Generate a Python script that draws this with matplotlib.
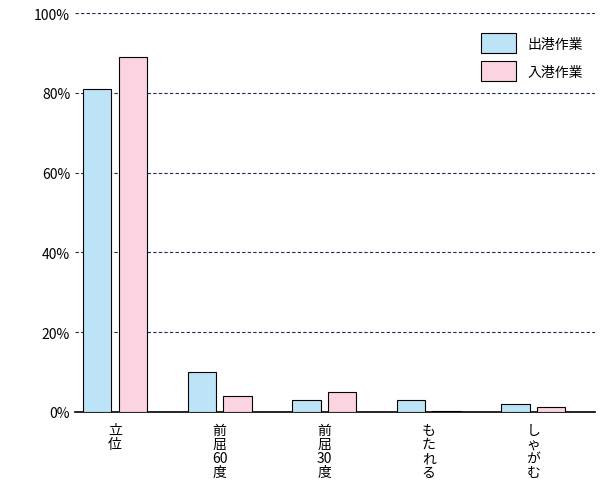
import matplotlib
matplotlib.use("Agg")
import matplotlib.pyplot as plt
import numpy as np

plt.rcParams['font.family'] = ['Noto Sans CJK JP', 'DejaVu Sans']

categories = ["立\n位", "前\n屈\n60\n度", "前\n屈\n30\n度", "も\nた\nれ\nる", "し\nゃ\nが\nむ"]
series_names = ["出港作業", "入港作業"]
departure = [81, 10, 3, 3, 2]
arrival = [89, 4, 5, 0.3, 1.2]
yticks = [0, 20, 40, 60, 80, 100]

fig = plt.figure(figsize=(6.0, 4.89), dpi=100)
ax = fig.add_axes([75/600, 1-413/489, 520/600, 399/489])
x = np.arange(len(categories))
w = 0.27
ax.bar(x - 0.17, departure, w, color="#bde3f7", edgecolor="black", linewidth=0.8, label=series_names[0], zorder=3)
ax.bar(x + 0.17, arrival, w, color="#fcd3e1", edgecolor="black", linewidth=0.8, label=series_names[1], zorder=3)
ax.set_xlim(-0.383, 4.59)
ax.set_ylim(0, 100)
ax.set_yticks(yticks)
ax.set_yticklabels([f"{v}%" for v in yticks], fontsize=10)
for v in yticks[1:]:
    ax.axhline(v, color="#1a2a5a", linestyle=(0, (3, 2)), linewidth=0.8, zorder=1)
ax.set_xticks(x)
ax.set_xticklabels(categories, fontsize=10, linespacing=1.0, va="top")
ax.tick_params(axis='x', length=0, pad=8)
ax.tick_params(axis='y', length=0)
for s in ["top", "right", "left"]:
    ax.spines[s].set_visible(False)
ax.spines["bottom"].set_linewidth(1.2)
ax.legend(loc="upper right", bbox_to_anchor=(1.0, 0.98), frameon=False, fontsize=10,
          handlelength=2.5, handleheight=1.8, labelspacing=0.6)
fig.savefig("out.png", dpi=100)
